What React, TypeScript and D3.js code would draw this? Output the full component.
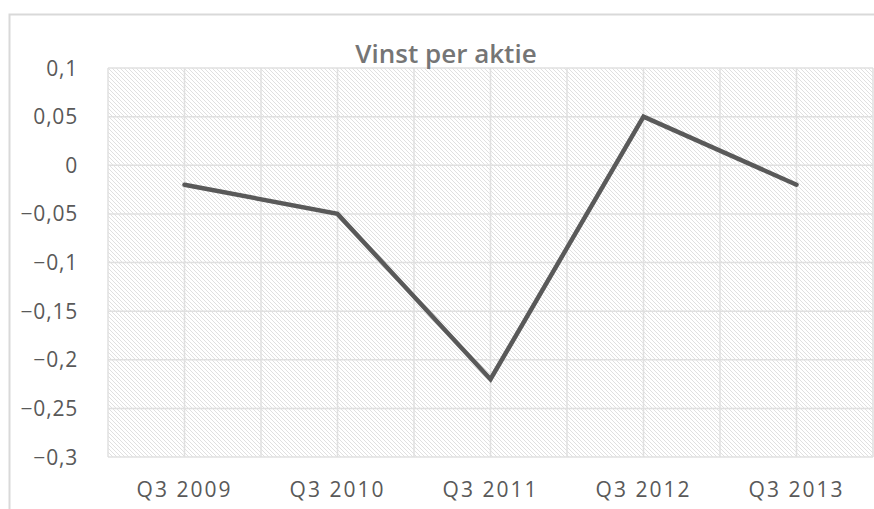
import React from "react";
import * as d3 from "d3";

const categories = ["Q3 2009", "Q3 2010", "Q3 2011", "Q3 2012", "Q3 2013"];
const values = [-0.02, -0.05, -0.22, 0.05, -0.02];
const yTicks = [0.1, 0.05, 0, -0.05, -0.1, -0.15, -0.2, -0.25, -0.3];
const title = "Vinst per aktie";

const W = 874;
const H = 509;
const plot = { left: 108, right: 873, top: 68, bottom: 457 };

const fmt = (v: number) => {
  const s = String(Math.abs(v)).replace(".", ",");
  return (v < 0 ? "\u2212" : "") + s;
};

export default function App() {
  const x = d3.scaleBand<string>().domain(categories).range([plot.left, plot.right]);
  const y = d3.scaleLinear().domain([-0.3, 0.1]).range([plot.bottom, plot.top]);
  const cx = (c: string) => (x(c) as number) + x.bandwidth() / 2;
  const line = d3
    .line<number>()
    .x((_, i) => cx(categories[i]))
    .y((d) => y(d));
  const vLines: number[] = [];
  categories.forEach((c) => {
    vLines.push(x(c) as number);
    vLines.push(cx(c));
  });
  vLines.push(plot.right);
  const font = "'Open Sans', 'DejaVu Sans', sans-serif";
  return (
    <svg
      width={W}
      height={H}
      style={{ position: "absolute", left: 0, top: 0, background: "#fff" }}
    >
      <defs>
        <pattern id="hatch" width={4} height={4} patternUnits="userSpaceOnUse">
          <path d="M-1,-1 L5,5 M-1,3 L1,5 M3,-1 L5,1" stroke="#e0e0e0" strokeWidth={1} />
        </pattern>
      </defs>
      <path d={`M${W + 5},14.5 H9.5 V${H + 5}`} fill="none" stroke="#d9d9d9" strokeWidth={2} />
      <rect
        x={plot.left}
        y={plot.top}
        width={plot.right - plot.left}
        height={plot.bottom - plot.top}
        fill="url(#hatch)"
      />
      {yTicks.map((t) => (
        <line
          key={"h" + t}
          x1={plot.left}
          x2={plot.right}
          y1={y(t)}
          y2={y(t)}
          stroke="#e0e0e0"
          strokeWidth={1.5}
        />
      ))}
      {vLines.map((v, i) => (
        <line
          key={"v" + i}
          x1={v}
          x2={v}
          y1={plot.top}
          y2={plot.bottom}
          stroke="#e0e0e0"
          strokeWidth={1.5}
        />
      ))}
      <path
        d={line(values) || ""}
        fill="none"
        stroke="#595959"
        strokeWidth={4.5}
        strokeLinejoin="miter"
        strokeLinecap="round"
      />
      {yTicks.map((t) => (
        <text
          key={"t" + t}
          x={78}
          y={y(t)}
          dy="0.36em"
          textAnchor="end"
          fontFamily={font}
          fontSize={21}
          letterSpacing={0.8}
          fill="#595959"
        >
          {fmt(t)}
        </text>
      ))}
      {categories.map((c) => (
        <text
          key={c}
          x={cx(c)}
          y={497}
          textAnchor="middle"
          fontFamily={font}
          fontSize={21}
          letterSpacing={2}
          fill="#595959"
        >
          {c}
        </text>
      ))}
      <text
        x={446}
        y={63}
        textAnchor="middle"
        fontFamily={font}
        fontSize={26}
        fontWeight={600}
        fill="#757575"
      >
        {title}
      </text>
    </svg>
  );
}
